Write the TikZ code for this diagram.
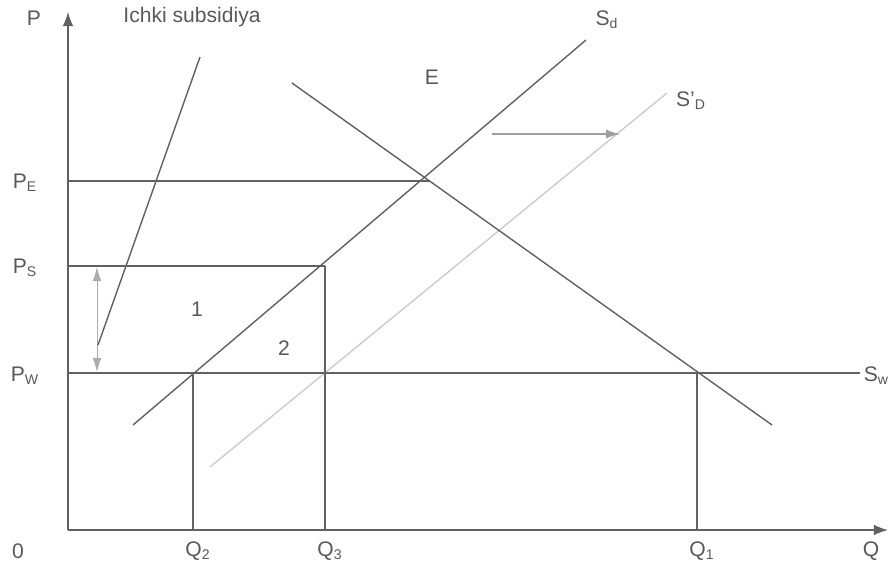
\documentclass[tikz,border=0pt]{standalone}
\usepackage{fontspec}
\setmainfont{Liberation Sans}
\usepackage{xcolor}
\usepackage{tikz}
\usetikzlibrary{arrows.meta}

\definecolor{lineg}{gray}{0.38}
\definecolor{lightg}{gray}{0.80}
\definecolor{textg}{gray}{0.35}

\tikzset{
  curve/.style={line width=.8pt,lineg},
  guide/.style={line width=.7pt,lineg},
  lab/.style={text=textg,font=\fontsize{12}{14}\selectfont,inner sep=1pt},
}

\begin{document}
\begin{tikzpicture}[x=0.2mm,y=-0.2mm]
      \useasboundingbox (0,0) rectangle (894,562);
      % axes
      \coordinate (O) at (68,530);
      \coordinate (ytop) at (68,12);
      \coordinate (xend) at (888,530);
      \draw[guide,-{Latex[length=8pt,width=6pt]}] (O) -- (ytop);
      \draw[guide,-{Latex[length=8pt,width=6pt]}] (O) -- (xend);
      \node[lab] (lP) at (34,18) {P};
      \node[lab] (l0) at (18,551) {0};
      \node[lab] (lQ) at (871,551) {Q};
      % supply and demand
      \coordinate (sd1) at (133,425);
      \coordinate (sd2) at (586,40);
      \coordinate (sp1) at (210,467);
      \coordinate (sp2) at (667,93);
      \coordinate (d1) at (292,83);
      \coordinate (d2) at (772,425);
      \draw[curve] (sd1) -- (sd2);
      \draw[line width=.8pt,lightg] (sp1) -- (sp2);
      \draw[curve] (d1) -- (d2);
      \node[lab] (lSd) at (607,20) {S\textsubscript{d}};
      \node[lab] (lSD) at (691,101) {S'\textsubscript{D}};
      \node[lab] (lE) at (432,77) {E};
      % price levels
      \coordinate (pe) at (68,181);
      \coordinate (E) at (430,181);
      \coordinate (ps) at (68,266);
      \coordinate (S2) at (325,266);
      \coordinate (pw) at (68,373);
      \coordinate (wend) at (860,373);
      \draw[guide] (pe) -- (E);
      \draw[guide] (ps) -- (S2);
      \draw[guide] (pw) -- (wend);
      \node[lab] (lPE) at (25,183) {P\textsubscript{E}};
      \node[lab] (lPS) at (25,268) {P\textsubscript{S}};
      \node[lab] (lPW) at (25,376) {P\textsubscript{W}};
      \node[lab,anchor=east] (lSw) at (891,376) {S\textsubscript{w}};
      % quantities
      \coordinate (q1) at (193,530);
      \coordinate (A) at (193,373);
      \coordinate (q2) at (325,530);
      \coordinate (q3) at (697,530);
      \coordinate (B) at (697,373);
      \draw[guide] (A) -- (q1);
      \draw[guide] (S2) -- (q2);
      \draw[guide] (B) -- (q3);
      \node[lab] (lQ1) at (198,551) {Q\textsubscript{2}};
      \node[lab] (lQ2) at (330,551) {Q\textsubscript{3}};
      \node[lab] (lQ3) at (702,551) {Q\textsubscript{1}};
      % shift of supply
      \coordinate (sh1) at (492,134);
      \coordinate (sh2) at (620,134);
      \draw[line width=.6pt,gray!75,-{Latex[length=8pt,width=5pt]}] (sh1) -- (sh2);
      % subsidy
      \coordinate (ar1) at (97,267);
      \coordinate (ar2) at (97,372);
      \draw[line width=.5pt,gray!65,{Latex[length=8pt,width=5pt]}-{Latex[length=8pt,width=5pt]}] (ar1) -- (ar2);
      \node[lab] (lsub) at (192,17) {Ichki subsidiya};
      \coordinate (c1) at (200,57);
      \coordinate (c2) at (98,345);
      \draw[curve] (c1) -- (c2);
      \node[lab] (l1) at (197,309) {1};
      \node[lab] (l2) at (284,348) {2};
    \end{tikzpicture}
\end{document}
